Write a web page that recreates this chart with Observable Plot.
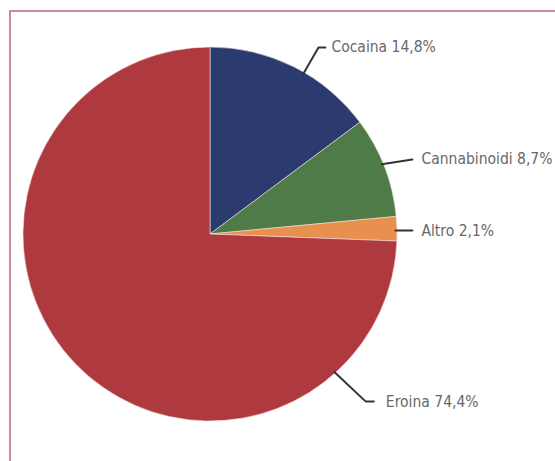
<!DOCTYPE html>
<html>
<head>
<meta charset="utf-8">
<script src="https://cdn.jsdelivr.net/npm/d3@7"></script>
<script src="https://cdn.jsdelivr.net/npm/@observablehq/plot@0.6"></script>
<style>
  html, body { margin: 0; padding: 0; background: #fff; overflow: hidden; }
  #wrap { position: relative; width: 555px; height: 461px; }
  #frame { position: absolute; left: 9px; top: 10px; width: 700px; height: 600px;
           border: 2px solid #cf8a94; box-sizing: border-box; pointer-events: none; }
  #chart { position: absolute; left: 0; top: 0; }
</style>
</head>
<body>
<div id="wrap"><div id="chart"></div><div id="frame"></div></div>
<script>
// ---- data ----
const categories = ["Cocaina", "Cannabinoidi", "Altro", "Eroina"];
const values = [14.8, 8.7, 2.1, 74.4];

// ---- styles ----
const colors = ["#2b3b6f", "#4f7b48", "#e8914f", "#ae3a3f"];

// ---- layout (label leader lines, in polar units of the pie radius) ----
const W = 555, H = 461;
const cx = 210, cy = 234, R = 187;           // pie centre and radius in px
const leaderStartAngle = [30, 67.7, 88.8, 138];   // degrees clockwise from top
const leaderStartRadius = [0.99, 0.99, 0.99, 0.99];
const leaderElbowAngle = [30, 69.6, 88.9, 137.1];
const leaderElbowRadius = [1.155, 1.152, 1.08, 1.22];
const leaderTail = [0.037, 0, 0, 0.043];          // horizontal tail length
const labelGap = [6, 9, 9, 12];                    // px between line and text

const slices = categories.map((c, i) => ({category: c, value: values[i], color: colors[i]}));

const polar = (a, r) => ({x: r * Math.sin(a * Math.PI / 180), y: r * Math.cos(a * Math.PI / 180)});

const leaderPts = [];
const labels = [];
categories.forEach((c, i) => {
  const p0 = polar(leaderStartAngle[i], leaderStartRadius[i]);
  const p1 = polar(leaderElbowAngle[i], leaderElbowRadius[i]);
  const p2 = {x: p1.x + leaderTail[i], y: p1.y};
  leaderPts.push({k: c, ...p0}, {k: c, ...p1}, {k: c, ...p2});
  labels.push({x: p2.x, y: p2.y, gap: labelGap[i],
               text: `${c} ${String(values[i]).replace(".", ",")}%`});
});

const pieMark = Plot.dot([0], {
  x: () => 0, y: () => 0,
  render: (index, scales) => {
    const x0 = scales.x(0), y0 = scales.y(0), rr = scales.x(1) - scales.x(0);
    const arcs = d3.pie().sort(null).value(d => d.value)(slices);
    const arc = d3.arc().innerRadius(0).outerRadius(rr);
    const g = d3.create("svg:g");
    g.selectAll("path").data(arcs).join("path")
      .attr("transform", `translate(${x0},${y0})`)
      .attr("d", arc)
      .attr("fill", d => d.data.color)
      .attr("stroke", "#f4dede")
      .attr("stroke-width", 0.6);
    return g.node();
  }
});

const chart = Plot.plot({
  width: W, height: H,
  margin: 0,
  x: {domain: [-cx / R, (W - cx) / R], range: [0, W], axis: null},
  y: {domain: [-(H - cy) / R, cy / R], range: [H, 0], axis: null},
  style: {background: "transparent"},
  marks: [
    pieMark,
    Plot.line(leaderPts, {x: "x", y: "y", z: "k", stroke: "#333", strokeWidth: 2, strokeLinejoin: "miter"}),
    ...labels.map(l => Plot.text([l], {x: "x", y: "y", text: "text", dx: l.gap, textAnchor: "start",
      fill: "#686868", fontSize: 15.5, fontFamily: "'Liberation Sans Narrow', 'DejaVu Sans Condensed', sans-serif"}))
  ]
});
document.getElementById("chart").appendChild(chart);
</script>
</body>
</html>
